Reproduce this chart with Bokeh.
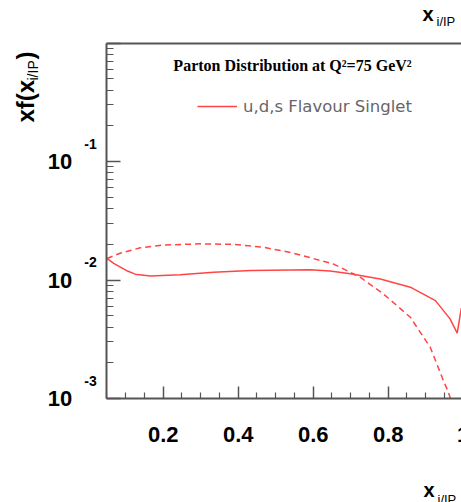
import math
from bokeh.plotting import figure
from bokeh.models import Label, FixedTicker, LinearAxis, LogAxis, Range1d, Legend, LegendItem
from bokeh.embed import file_html
from bokeh.resources import INLINE

# ---- data ----
solid_x = [0.05, 0.068, 0.087, 0.105, 0.125, 0.166, 0.245, 0.334, 0.433, 0.593, 0.645, 0.699, 0.779, 0.859, 0.926, 0.965, 0.984, 0.995]
solid_y = [0.0152, 0.0138, 0.0128, 0.0119, 0.0112, 0.0108, 0.0111, 0.0116, 0.0120, 0.0122, 0.0119, 0.0113, 0.0102, 0.0087, 0.0067, 0.0047, 0.00356, 0.0058]

dashed_x = [0.05, 0.085, 0.139, 0.2, 0.299, 0.387, 0.467, 0.539, 0.653, 0.725, 0.787, 0.859, 0.912, 0.947, 0.958, 0.966]
dashed_y = [0.0152, 0.0168, 0.0187, 0.0197, 0.0202, 0.0200, 0.0189, 0.0171, 0.0137, 0.01057, 0.00764, 0.00485, 0.00271, 0.00142, 0.00118, 0.0010]

x_ticks = [0.2, 0.4, 0.6, 0.8, 1.0]
x_tick_labels = ["0.2", "0.4", "0.6", "0.8", "1"]
x_minor = [0.05, 0.1, 0.15, 0.25, 0.3, 0.35, 0.45, 0.5, 0.55, 0.65, 0.7, 0.75, 0.85, 0.9, 0.95]
y_ticks = [1e-3, 1e-2, 1e-1, 1.0]
y_exps = ["-3", "-2", "-1"]
y_minor = [m * 10.0 ** e for e in (-3, -2, -1) for m in range(2, 10)]

title_text = "Parton Distribution at Q\u00b2=75 GeV\u00b2"
legend_text = "u,d,s Flavour Singlet"

# ---- layout: the plotting box sits inside the page, axes drawn at fixed places ----
W, H = 461, 502
X0, Y0, Y1 = 0.05, 1e-3, 1.0          # visible axis box (data units)
PX_X0, PX_PER_X = 106.45, 375.0        # page x of X0, pixels per x unit
PY_TOP, PX_PER_DEC = 42.5, 118.5       # page y of Y1, pixels per decade
x_lo = X0 - PX_X0 / PX_PER_X
x_hi = X0 + (W - PX_X0) / PX_PER_X
y_hi = 10 ** (PY_TOP / PX_PER_DEC)
y_lo = 10 ** (-(H - PY_TOP) / PX_PER_DEC)

RED = "#ff4545"
AX = "#555555"
FONT = "Liberation Sans"

p = figure(width=W, height=H, x_range=Range1d(x_lo, x_hi), y_range=Range1d(y_lo, y_hi),
           y_axis_type="log", x_axis_location=None, y_axis_location=None,
           output_backend="svg", toolbar_location=None,
           min_border_left=0, min_border_right=0, min_border_top=0, min_border_bottom=0)
p.grid.visible = False
p.outline_line_color = None
p.background_fill_color = "white"
p.border_fill_color = "white"

def style_axis(ax):
    ax.axis_line_color = AX
    ax.axis_line_width = 2
    ax.major_tick_line_color = AX
    ax.minor_tick_line_color = AX
    ax.major_tick_line_width = 1.5
    ax.minor_tick_line_width = 1.2
    ax.major_tick_out = 0
    ax.minor_tick_out = 0
    ax.major_label_standoff = 0

xax = LinearAxis(ticker=FixedTicker(ticks=x_ticks, minor_ticks=x_minor),
                 major_label_overrides={v: "" for v in x_ticks},
                 fixed_location=Y0, bounds=(X0, x_hi))
style_axis(xax)
xax.major_tick_in = 12
xax.minor_tick_in = 6
p.add_layout(xax, "below")

yax = LogAxis(ticker=FixedTicker(ticks=y_ticks, minor_ticks=y_minor),
              major_label_overrides={v: "" for v in y_ticks},
              fixed_location=X0, bounds=(Y0, Y1))
style_axis(yax)
yax.major_tick_in = 14
yax.minor_tick_in = 7
p.add_layout(yax, "left")

top = LinearAxis(ticker=FixedTicker(ticks=[]), fixed_location=Y1, bounds=(X0, x_hi),
                 axis_line_color=AX, axis_line_width=2, major_tick_line_color=None,
                 minor_tick_line_color=None, major_label_text_font_size="11px")
p.add_layout(top, "above")

r_solid = p.line(solid_x, solid_y, line_color=RED, line_width=1.5)
p.line(dashed_x, dashed_y, line_color=RED, line_width=1.5, line_dash="6 4")

legend = Legend(items=[LegendItem(label=legend_text, renderers=[r_solid])],
                location=(197, H - 116), glyph_width=40, glyph_height=20, label_height=20,
                label_standoff=6, padding=0, margin=0, spacing=0,
                border_line_color=None, background_fill_alpha=0,
                label_text_font="DejaVu Sans", label_text_font_size="16.5px",
                label_text_color="#666666")
p.add_layout(legend)

def sy(py):
    return H - py

def lab(text, x, y, size, xu="screen", yu="screen", **kw):
    p.add_layout(Label(x=x, y=y, x_units=xu, y_units=yu, text=text,
                       text_font=kw.pop("font", FONT), text_font_size=size,
                       text_color=kw.pop("color", "black"),
                       text_font_style=kw.pop("style", "bold"),
                       text_baseline=kw.pop("baseline", "middle"), **kw))

# title
lab(title_text, 292, sy(65), "16px", font="Liberation Serif", text_align="center")

# x tick labels
for v, t in zip(x_ticks, x_tick_labels):
    lab(t, v, sy(434), "22px", xu="data", text_align="center")

# y tick labels 10^k
for v, e in zip(y_ticks, y_exps):
    lab("10", 59.5, v, "22px", yu="data", text_align="center")
    lab(e, 90, v, "14px", yu="data", text_align="center", y_offset=18)

# y axis title xf(x_{i/IP})
lab("xf(x", 25, sy(122), "24px", angle=math.pi / 2, text_align="left")
lab("i/IP", 32, sy(80), "14px", style="normal", angle=math.pi / 2, text_align="left")
lab(")", 25, sy(59), "24px", angle=math.pi / 2, text_align="left")

# x labels (top-right and bottom-right)
lab("x", 422, sy(13), "20px", text_align="left")
lab("i/IP", 436, sy(21), "13px", style="normal", text_align="left")
lab("x", 423, sy(489), "20px", text_align="left")
lab("i/IP", 437, sy(499), "13px", style="normal", text_align="left")

open("out.html", "w").write(file_html(p, INLINE))
